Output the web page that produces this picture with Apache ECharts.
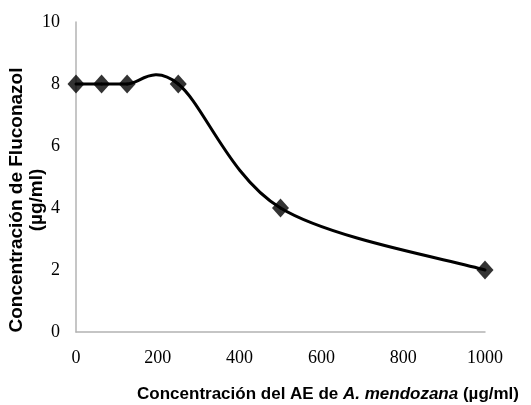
<!DOCTYPE html>
<html>
<head>
<meta charset="utf-8">
<script src="https://cdn.jsdelivr.net/npm/echarts@6/dist/echarts.min.js"></script>
<style>
  html, body { margin: 0; padding: 0; background: #fff; }
  #chart { width: 531px; height: 405px; }
</style>
</head>
<body>
<div id="chart"></div>
<script>
// AE concentration (µg/ml) and the matching fluconazole concentration (µg/ml)
const aeConcentration = [0, 62.5, 125, 250, 500, 1000];
const fluconazole = [8, 8, 8, 8, 4, 2];
const xTicks = [0, 200, 400, 600, 800, 1000];
const yTicks = [0, 2, 4, 6, 8, 10];

const points = aeConcentration.map((x, i) => [x, fluconazole[i]]);

const chart = echarts.init(document.getElementById('chart'), null, { renderer: 'canvas' });

const tickFont = {
  fontFamily: '"Liberation Serif", "Times New Roman", serif',
  fontSize: 18,
  color: '#000'
};
const titleFont = '"Liberation Sans", Arial, sans-serif';

// Smoothed connecting curve: cardinal spline through the points in pixel
// space, one cubic Bezier segment per data interval.
function renderSegment(params, api) {
  const i = params.dataIndex;
  const n = points.length;
  if (i >= n - 1) return null;
  const px = points.map(p => api.coord(p));
  const p0 = px[Math.max(i - 1, 0)];
  const p1 = px[i];
  const p2 = px[i + 1];
  const p3 = px[Math.min(i + 2, n - 1)];
  const k = 1 / 6;
  return {
    type: 'bezierCurve',
    shape: {
      x1: p1[0], y1: p1[1],
      x2: p2[0], y2: p2[1],
      cpx1: p1[0] + (p2[0] - p0[0]) * k,
      cpy1: p1[1] + (p2[1] - p0[1]) * k,
      cpx2: p2[0] - (p3[0] - p1[0]) * k,
      cpy2: p2[1] - (p3[1] - p1[1]) * k
    },
    style: { stroke: '#000', lineWidth: 3, fill: null, lineCap: 'round' }
  };
}

chart.setOption({
  animation: false,
  backgroundColor: '#fff',
  grid: { left: 76, right: 46, top: 22, bottom: 73, containLabel: false, outerBoundsMode: 'none' },
  xAxis: {
    type: 'value',
    min: xTicks[0],
    max: xTicks[xTicks.length - 1],
    interval: 200,
    axisLine: { show: true, lineStyle: { color: '#b3b3b3', width: 1.5 } },
    axisTick: { show: false },
    splitLine: { show: false },
    axisLabel: Object.assign({ margin: 17, formatter: v => String(v) }, tickFont)
  },
  yAxis: {
    type: 'value',
    min: yTicks[0],
    max: yTicks[yTicks.length - 1],
    interval: 2,
    axisLine: { show: true, lineStyle: { color: '#b3b3b3', width: 1.5 } },
    axisTick: { show: false },
    splitLine: { show: false },
    axisLabel: Object.assign({ margin: 16, formatter: v => String(v) }, tickFont)
  },
  graphic: [{
    // vertical axis title
    type: 'text',
    x: 27,
    y: 200,
    rotation: Math.PI / 2,
    style: {
      text: 'Concentración de Fluconazol\n(µg/ml)',
      fontFamily: titleFont,
      fontWeight: 'bold',
      fontSize: 19,
      lineHeight: 20,
      fill: '#000',
      align: 'center',
      verticalAlign: 'middle'
    }
  }, {
    // horizontal axis title
    type: 'text',
    right: 12,
    top: 386,
    style: {
      text: '{n|Concentración del AE de }{i|A. mendozana}{n| (µg/ml)}',
      rich: {
        n: { fontFamily: titleFont, fontWeight: 'bold', fontSize: 17, fill: '#000' },
        i: { fontFamily: titleFont, fontWeight: 'bold', fontStyle: 'italic', fontSize: 17, fill: '#000' }
      }
    }
  }],
  series: [{
    type: 'custom',
    data: points,
    renderItem: renderSegment,
    silent: true,
    z: 2
  }, {
    type: 'scatter',
    data: points,
    symbol: 'diamond',
    symbolSize: [17, 19],
    itemStyle: { color: '#000' },
    z: 3
  }]
});
</script>
</body>
</html>
